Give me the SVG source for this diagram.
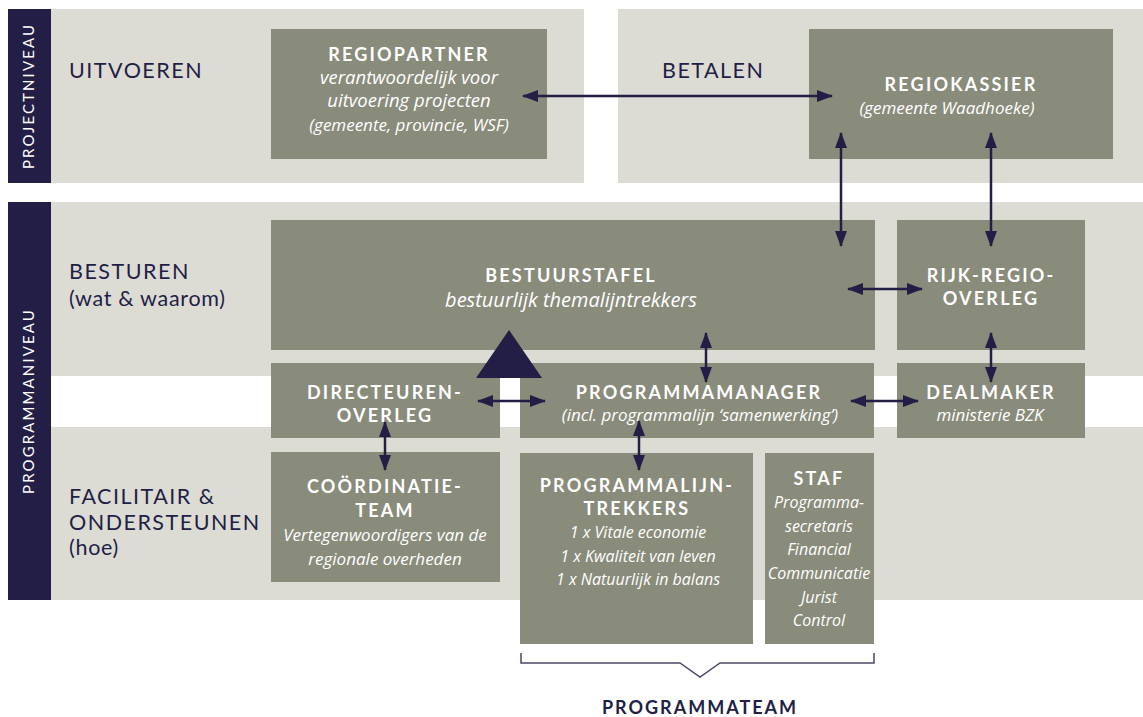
<svg xmlns="http://www.w3.org/2000/svg" width="1143" height="717" viewBox="0 0 1143 717">
<style>
.band{fill:#dddcd4}
.side{fill:#221e45}
.box{fill:#898b7b}
.lbl{font-family:Lato,"Liberation Sans",sans-serif;font-size:21.5px;fill:#221e45;letter-spacing:1.5px}
.lw{letter-spacing:0.7px}
.side-t{font-family:Lato,"Liberation Sans",sans-serif;font-size:15px;fill:#ffffff;letter-spacing:2.1px}
.t{font-family:Lato,"Liberation Sans",sans-serif;font-size:18px;font-weight:bold;fill:#ffffff;letter-spacing:2.2px;text-anchor:middle}
.i{font-family:"Open Sans","Noto Sans",sans-serif;font-size:18.5px;font-style:italic;fill:#ffffff;text-anchor:middle}
.m{font-size:17px}
.s{font-size:16px}
.c{stroke:#221e45;stroke-width:2.5;fill:none;marker-start:url(#ah);marker-end:url(#ah)}
</style>
<defs>
<marker id="ah" viewBox="0 0 16 12" refX="15" refY="6" markerWidth="16" markerHeight="12" markerUnits="userSpaceOnUse" orient="auto-start-reverse">
<path d="M0,0 L16,6 L0,12 Z" fill="#221e45"/>
</marker>
</defs>
<rect width="1143" height="717" fill="#ffffff"/>
<g id="bands">
<rect class="band" x="51" y="9" width="533" height="174"/>
<rect class="band" x="618" y="9" width="525" height="174"/>
<rect class="band" x="51" y="202" width="1092" height="174"/>
<rect class="band" x="51" y="427" width="1092" height="173"/>
<rect class="side" x="8" y="9" width="43" height="174"/>
<rect class="side" x="8" y="202" width="43" height="398"/>
<text class="side-t" transform="translate(34,96) rotate(-90)" text-anchor="middle">PROJECTNIVEAU</text>
<text class="side-t" transform="translate(34,401) rotate(-90)" text-anchor="middle">PROGRAMMANIVEAU</text>
<text class="lbl" x="69" y="78">UITVOEREN</text>
<text class="lbl" x="662" y="78">BETALEN</text>
<text class="lbl" x="69" y="279">BESTUREN</text>
<text class="lbl lw" x="69" y="306">(wat &amp; waarom)</text>
<text class="lbl" x="69" y="504">FACILITAIR &amp;</text>
<text class="lbl" x="69" y="530">ONDERSTEUNEN</text>
<text class="lbl lw" x="69" y="555">(hoe)</text>
</g>
<g id="regiopartner">
<rect class="box" x="271" y="29" width="276" height="130"/>
<text class="t" x="409" y="61">REGIOPARTNER</text>
<text class="i" x="409" y="84">verantwoordelijk voor</text>
<text class="i" x="409" y="107">uitvoering projecten</text>
<text class="i m" x="409" y="131">(gemeente, provincie, WSF)</text>
</g>
<g id="regiokassier">
<rect class="box" x="809" y="29" width="304" height="130"/>
<text class="t" x="961" y="91">REGIOKASSIER</text>
<text class="i m" x="947" y="114">(gemeente Waadhoeke)</text>
</g>
<g id="bestuurstafel">
<rect class="box" x="271" y="220" width="604" height="130"/>
<text class="t" x="571" y="282">BESTUURSTAFEL</text>
<text class="i" x="571" y="307" style="font-size:20px">bestuurlijk themalijntrekkers</text>
</g>
<g id="rijkregio">
<rect class="box" x="897" y="220" width="188" height="130"/>
<text class="t" x="991" y="282">RIJK-REGIO-</text>
<text class="t" x="991" y="305">OVERLEG</text>
</g>
<g id="directeuren">
<rect class="box" x="271" y="363" width="229" height="75"/>
<text class="t" x="385" y="399">DIRECTEUREN-</text>
<text class="t" x="385" y="422">OVERLEG</text>
</g>
<g id="programmamanager">
<rect class="box" x="520" y="363" width="354" height="75"/>
<text class="t" x="699" y="399">PROGRAMMAMANAGER</text>
<text class="i m" x="700" y="421">(incl. programmalijn ‘samenwerking’)</text>
</g>
<g id="dealmaker">
<rect class="box" x="897" y="363" width="188" height="75"/>
<text class="t" x="991" y="399">DEALMAKER</text>
<text class="i m" x="990" y="421">ministerie BZK</text>
</g>
<g id="coordinatieteam">
<rect class="box" x="271" y="452" width="229" height="130"/>
<text class="t" x="385" y="493">COÖRDINATIE-</text>
<text class="t" x="385" y="517">TEAM</text>
<text class="i m" x="385" y="541">Vertegenwoordigers van de</text>
<text class="i m" x="385" y="565">regionale overheden</text>
</g>
<g id="programmalijntrekkers">
<rect class="box" x="520" y="453" width="233" height="191"/>
<text class="t" x="637" y="492">PROGRAMMALIJN-</text>
<text class="t" x="637" y="515">TREKKERS</text>
<text class="i s" x="638" y="538">1 x Vitale economie</text>
<text class="i s" x="638" y="562">1 x Kwaliteit van leven</text>
<text class="i s" x="638" y="585">1 x Natuurlijk in balans</text>
</g>
<g id="staf">
<rect class="box" x="765" y="453" width="109" height="191"/>
<text class="t" x="819" y="485">STAF</text>
<text class="i s" x="819" y="508">Programma-</text>
<text class="i s" x="819" y="532">secretaris</text>
<text class="i s" x="819" y="555">Financial</text>
<text class="i s" x="819" y="579">Communicatie</text>
<text class="i s" x="819" y="603">Jurist</text>
<text class="i s" x="819" y="626">Control</text>
</g>
<g id="triangle">
<polygon points="476,378 542,378 509,330" fill="#221e45"/>
</g>
<g id="connectors">
<line class="c" x1="523" y1="96" x2="832" y2="96"/>
<line class="c" x1="841" y1="133" x2="841" y2="246"/>
<line class="c" x1="991" y1="133" x2="991" y2="246"/>
<line class="c" x1="848" y1="289" x2="922" y2="289"/>
<line class="c" x1="706" y1="333" x2="706" y2="382"/>
<line class="c" x1="991" y1="333" x2="991" y2="382"/>
<line class="c" x1="478" y1="401" x2="545" y2="401"/>
<line class="c" x1="851" y1="401" x2="918" y2="401"/>
<line class="c" x1="385" y1="422" x2="385" y2="470"/>
<line class="c" x1="639" y1="421" x2="639" y2="470"/>
</g>
<g id="programmateam">
<path d="M521,653 V663 H680 L700,677 L720,663 H874 V653" fill="none" stroke="#4a4866" stroke-width="1.5"/>
<text x="700" y="714" text-anchor="middle" style="font-family:Lato,'Liberation Sans',sans-serif;font-size:18px;font-weight:bold;fill:#221e45;letter-spacing:2px">PROGRAMMATEAM</text>
</g>
</svg>
